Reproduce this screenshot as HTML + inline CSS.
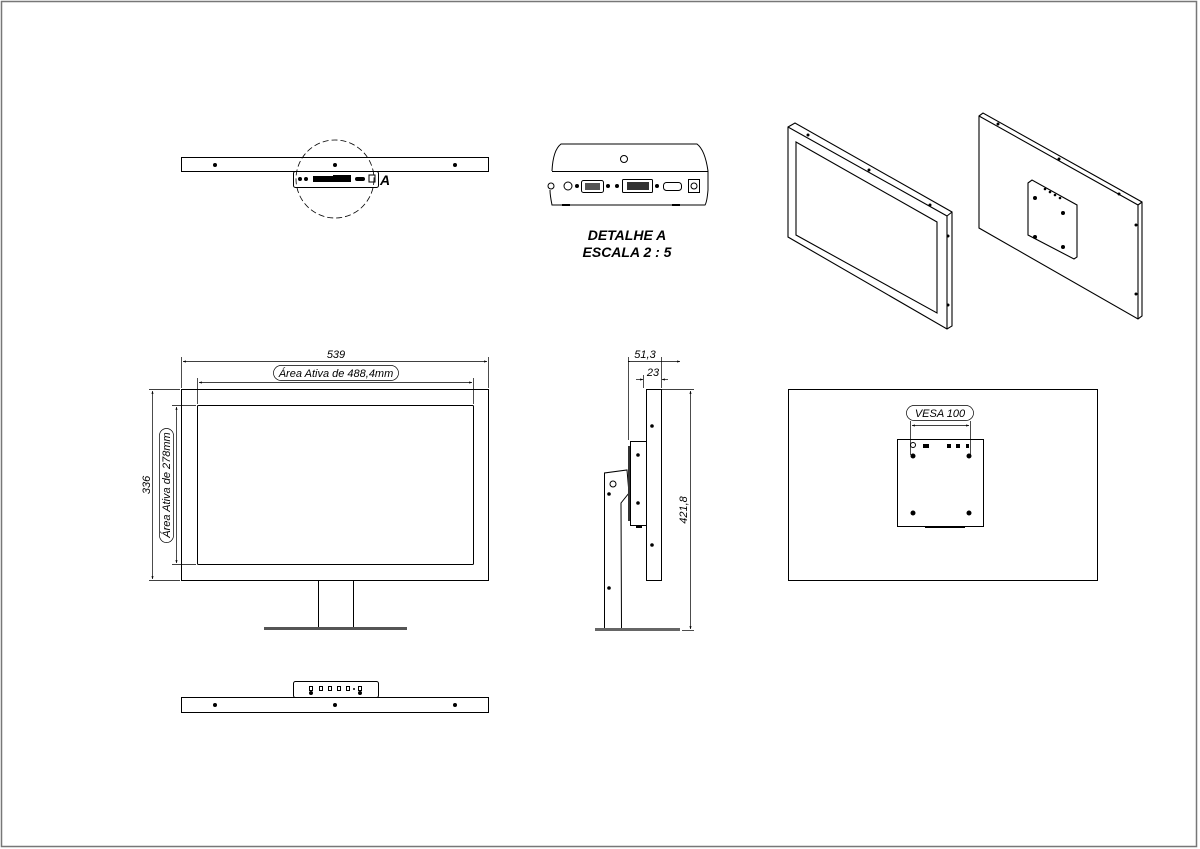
<!DOCTYPE html>
<html><head><meta charset="utf-8"><style>
html,body{margin:0;padding:0;background:#fff;width:1200px;height:849px;overflow:hidden}
svg{display:block}
text{font-family:"Liberation Sans",sans-serif;font-style:italic;fill:#000}
</style></head><body>
<svg width="1200" height="849" viewBox="0 0 1200 849" xmlns="http://www.w3.org/2000/svg">
<defs>
<marker id="ar" viewBox="0 0 10 10" refX="10" refY="5" markerWidth="6" markerHeight="4" orient="auto-start-reverse"><path d="M0,1 L10,5 L0,9 z" fill="#000"/></marker>
</defs>
<rect x="1.5" y="1.5" width="1195" height="845" fill="none" stroke="#777" stroke-width="1.5"/>
<g fill="none" stroke="#000" stroke-width="1">
<!-- top view -->
<rect x="181.5" y="157.5" width="307" height="14"/>
<rect x="293.5" y="171.5" width="85" height="16" rx="2"/>
<circle cx="335" cy="179" r="39" stroke-dasharray="6,3" stroke-width="0.8"/>
</g>
<g fill="#000">
<circle cx="215" cy="165" r="2"/><circle cx="335" cy="165" r="2"/><circle cx="455" cy="165" r="2"/>
<circle cx="300" cy="179" r="2"/><circle cx="306" cy="179" r="2"/>
<rect x="313" y="176" width="20" height="6"/><rect x="333" y="175" width="18" height="7"/>
<rect x="355" y="177" width="10" height="4" rx="2"/><rect x="369" y="175" width="6" height="7" fill="none" stroke="#000"/>
</g>
<text x="380" y="185" font-size="14" font-weight="bold">A</text>
<!-- detail A -->
<g fill="none" stroke="#000" stroke-width="1">
<path d="M552,171 Q553,150 561,144 L697,144 Q705,150 708,171 L708,190 Q707,202 705,205 L552,205 Q550,195 550,190"/>
<line x1="552" y1="171.5" x2="708" y2="171.5"/>
<circle cx="624" cy="159" r="3.5"/>
<circle cx="568" cy="186" r="4"/><circle cx="551" cy="186" r="3"/>
<rect x="581.5" y="180.5" width="22" height="12" rx="2"/>
<rect x="622.5" y="179.5" width="30" height="13" rx="1"/>
<rect x="663.5" y="182.5" width="18" height="8" rx="3"/>
<rect x="688.5" y="179.5" width="11" height="13"/>
<circle cx="694" cy="186" r="3"/>
</g>
<g fill="#000">
<circle cx="577" cy="186" r="2"/><circle cx="608" cy="186" r="2"/><circle cx="617" cy="186" r="2"/><circle cx="657" cy="186" r="2"/>
<rect x="585" y="183" width="15" height="7" fill="#555"/><rect x="627" y="182" width="22" height="8" fill="#333"/>
<rect x="562" y="204" width="8" height="2"/><rect x="672" y="204" width="8" height="2"/>
</g>
<text x="627" y="240" font-size="14" font-weight="bold" text-anchor="middle">DETALHE A</text>
<text x="627" y="257" font-size="14" font-weight="bold" text-anchor="middle">ESCALA 2 : 5</text>
<!-- iso left -->
<g fill="none" stroke="#000" stroke-width="1.1">
<path d="M788,127 L795,123 L952,212 L952,326 L947,329 L788,237 Z"/>
<path d="M788,127 L947,216 L947,329 M947,216 L952,212"/>
<path d="M796,142 L937,222 L937,313 L796,235 Z"/>
<path d="M979,116 L983,113 L1142,202 L1142,316 L1138,319 L979,228 Z"/>
<path d="M979,116 L1138,205 L1138,319 M1138,205 L1142,202"/>
<path d="M1028,183 L1032,180 L1077,205 L1077,257 L1074,259 L1028,235 Z"/>
</g>
<g fill="#000">
<circle cx="808" cy="135" r="1.5"/><circle cx="869" cy="170" r="1.5"/><circle cx="930" cy="205" r="1.5"/><circle cx="948" cy="236" r="1.5"/><circle cx="948" cy="305" r="1.5"/>
<circle cx="998" cy="124" r="1.5"/><circle cx="1059" cy="159" r="1.5"/><circle cx="1119" cy="194" r="1.5"/><circle cx="1136" cy="225" r="1.5"/><circle cx="1136" cy="294" r="1.5"/>
<circle cx="1035" cy="198" r="2"/><circle cx="1063" cy="213" r="2"/><circle cx="1035" cy="237" r="2"/><circle cx="1063" cy="247" r="2"/>
<circle cx="1045" cy="189" r="1.3"/><circle cx="1050" cy="192" r="1.3"/><circle cx="1055" cy="195" r="1.3"/><circle cx="1060" cy="198" r="1.3"/>
</g>
<!-- front view -->
<g fill="none" stroke="#000" stroke-width="1">
<rect x="181.5" y="389.5" width="307" height="191"/>
<rect x="197.5" y="405.5" width="276" height="159" rx="1"/>
<path d="M318.5,581 L318.5,628 M353.5,581 L353.5,628"/>
</g>
<rect x="264" y="627" width="143" height="3" fill="#555"/>
<g fill="none" stroke="#000" stroke-width="0.7">
<line x1="181.5" y1="357" x2="181.5" y2="388"/><line x1="488.5" y1="357" x2="488.5" y2="388"/>
<line x1="183" y1="361.5" x2="487" y2="361.5" marker-start="url(#ar)" marker-end="url(#ar)"/>
<line x1="197.5" y1="378" x2="197.5" y2="404"/><line x1="473.5" y1="378" x2="473.5" y2="404"/>
<line x1="199" y1="382.5" x2="472" y2="382.5" marker-start="url(#ar)" marker-end="url(#ar)"/>
<rect x="273.5" y="365.5" width="125" height="15" rx="7.5"/>
<line x1="149" y1="389.5" x2="180" y2="389.5"/><line x1="149" y1="580.5" x2="180" y2="580.5"/>
<line x1="152.5" y1="391" x2="152.5" y2="579" marker-start="url(#ar)" marker-end="url(#ar)"/>
<line x1="172" y1="405.5" x2="196" y2="405.5"/><line x1="172" y1="564.5" x2="196" y2="564.5"/>
<line x1="176.5" y1="407" x2="176.5" y2="563" marker-start="url(#ar)" marker-end="url(#ar)"/>
<rect x="159.5" y="428.5" width="14" height="114" rx="7"/>
</g>
<text x="336" y="358" font-size="11" text-anchor="middle">539</text>
<text x="336" y="377" font-size="11" text-anchor="middle">Área Ativa de 488,4mm</text>
<text transform="translate(150,485) rotate(-90)" font-size="11" text-anchor="middle">336</text>
<text transform="translate(170,485) rotate(-90)" font-size="11" text-anchor="middle">Área Ativa de 278mm</text>
<!-- side view -->
<g fill="none" stroke="#000" stroke-width="1">
<rect x="646.5" y="389.5" width="15" height="191"/>
<rect x="630.5" y="441.5" width="16" height="84"/>
<path d="M604.5,628 L604.5,473 L627,470 L629,493 L621,503 L621.5,628"/>
<circle cx="613" cy="484" r="3"/>
</g>
<rect x="595" y="628" width="85" height="3" fill="#666"/>
<rect x="628" y="446" width="2" height="75" fill="#333"/>
<g fill="#000">
<circle cx="652" cy="426" r="1.8"/><circle cx="652" cy="545" r="1.8"/><circle cx="638" cy="455" r="1.8"/><circle cx="638" cy="503" r="1.8"/>
<circle cx="609" cy="494" r="1.8"/><circle cx="609" cy="588" r="1.8"/><rect x="636" y="525" width="6" height="3"/>
</g>
<g fill="none" stroke="#000" stroke-width="0.7">
<line x1="628.5" y1="357" x2="628.5" y2="440"/><line x1="661.5" y1="357" x2="661.5" y2="388"/><line x1="643.5" y1="375" x2="643.5" y2="388"/>
<line x1="628" y1="361.5" x2="680" y2="361.5" marker-end="url(#ar)"/>
<line x1="630" y1="361.5" x2="628" y2="361.5"/>
<line x1="636" y1="379.5" x2="643" y2="379.5" marker-end="url(#ar)"/>
<line x1="668" y1="379.5" x2="662" y2="379.5" marker-end="url(#ar)"/>
<line x1="662" y1="389.5" x2="694" y2="389.5"/><line x1="682" y1="630.5" x2="694" y2="630.5"/>
<line x1="690.5" y1="391" x2="690.5" y2="629" marker-start="url(#ar)" marker-end="url(#ar)"/>
</g>
<text x="645" y="358" font-size="11" text-anchor="middle">51,3</text>
<text x="653" y="376" font-size="11" text-anchor="middle">23</text>
<text transform="translate(687,510) rotate(-90)" font-size="11" text-anchor="middle">421,8</text>
<!-- back view -->
<g fill="none" stroke="#000" stroke-width="1">
<rect x="788.5" y="389.5" width="309" height="191"/>
<rect x="897.5" y="439.5" width="86" height="87"/>
<rect x="906.5" y="405.5" width="67" height="15" rx="7.5" stroke-width="0.7"/>
<path d="M910.5,421 L910.5,455 M970.5,421 L970.5,455" stroke-width="0.7"/>
<line x1="912" y1="425.5" x2="969" y2="425.5" stroke-width="0.7" marker-start="url(#ar)" marker-end="url(#ar)"/>
<circle cx="913" cy="445" r="2.5"/>
</g>
<text x="940" y="417" font-size="11" text-anchor="middle">VESA 100</text>
<g fill="#000">
<circle cx="913" cy="456" r="2.5"/><circle cx="969" cy="456" r="2.5"/><circle cx="913" cy="513" r="2.5"/><circle cx="969" cy="513" r="2.5"/>
<rect x="923" y="444" width="6" height="4"/><rect x="947" y="444" width="4" height="4"/><rect x="956" y="444" width="4" height="4"/><rect x="966" y="444" width="3" height="4"/>
<rect x="925" y="526" width="40" height="2"/>
</g>
<!-- bottom view -->
<g fill="none" stroke="#000" stroke-width="1">
<rect x="181.5" y="697.5" width="307" height="15"/>
<rect x="293.5" y="681.5" width="85" height="16" rx="2"/>
<rect x="309.5" y="686.5" width="3" height="4"/><rect x="319.5" y="686.5" width="3" height="4"/><rect x="328.5" y="686.5" width="3" height="4"/><rect x="337.5" y="686.5" width="3" height="4"/><rect x="346.5" y="686.5" width="3" height="4"/><rect x="358.5" y="686.5" width="3" height="4"/>
</g>
<g fill="#000">
<circle cx="215" cy="705" r="2"/><circle cx="335" cy="705" r="2"/><circle cx="455" cy="705" r="2"/>
<circle cx="311" cy="693" r="2"/><circle cx="360" cy="693" r="2"/><circle cx="354" cy="689" r="1"/>
</g>
</svg>
</body></html>
